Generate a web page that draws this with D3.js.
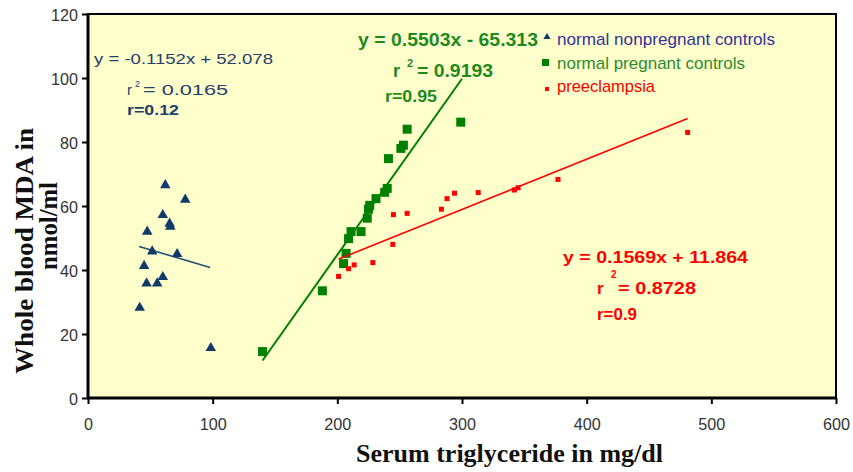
<!DOCTYPE html>
<html><head><meta charset="utf-8">
<script src="https://cdn.jsdelivr.net/npm/d3@7"></script>
<style>body{margin:0;background:#fff}svg{display:block}</style>
</head><body><svg id="c" width="853" height="472"></svg>
<script>
// ---- data ----
const xTicks = [0, 100, 200, 300, 400, 500, 600];
const yTicks = [0, 20, 40, 60, 80, 100, 120];
const seriesNames = ["normal nonpregnant controls", "normal pregnant controls", "preeclampsia"];
const nonpregnant = [[62,66.5],[78,62],[60,57.2],[65.5,54.5],[66,53.5],[47.5,52],[51.5,45.8],[71.5,45],[45,41.3],[60,37.8],[47,35.8],[55.5,35.8],[41.5,28.2],[98.5,15.6]];
const pregnant = [[140,14.5],[188,33.5],[205,42],[207,45.2],[209,49.8],[211,52],[219,52],[224,56.2],[225,59],[226,60.2],[231,62.3],[238,64.3],[240,65.5],[241,74.8],[251,78],[253,79],[256,84],[299,86.2]];
const preeclampsia = [[201,38],[209,40.4],[213.5,41.6],[228.5,42.3],[244.5,48],[245,57.3],[256,57.7],[283.5,59],[288,62.3],[294,64],[313,64.2],[342,65],[345,65.7],[377,68.3],[481,83]];
// regression lines: [slope, intercept, xStart, xEnd]
const fitNonpregnant = [-0.1152, 52.078, 41, 98];
const fitPregnant = [0.5503, -65.313, 140, 300];
const fitPreeclampsia = [0.1569, 11.864, 201, 481];
const eqNonpregnant = ["y = -0.1152x + 52.078", "= 0.0165", "r=0.12"];
const eqPregnant = ["y = 0.5503x - 65.313", "= 0.9193", "r=0.95"];
const eqPreeclampsia = ["y = 0.1569x + 11.864", "= 0.8728", "r=0.9"];

const svg = d3.select("#c");
const L = 88, R = 836, T = 14, B = 398;
const x = d3.scaleLinear().domain([0, 600]).range([L, R]);
const y = d3.scaleLinear().domain([0, 120]).range([B, T]);

const cBlue = "#103A6A", cGreen = "#008000", cRed = "#FF0000";

svg.append("rect").attr("x", L).attr("y", T).attr("width", R - L).attr("height", B - T)
  .attr("fill", "#FFFFCC").attr("stroke", "#000").attr("stroke-width", 2);

// axes
const tickFont = "'Liberation Sans', Arial, sans-serif";
const gx = svg.append("g").attr("transform", `translate(0,${B})`)
  .call(d3.axisBottom(x).tickValues(xTicks).tickSizeOuter(0).tickSizeInner(6));
gx.select(".domain").remove();
gx.selectAll("line").attr("stroke", "#000").attr("stroke-width", 2);
gx.selectAll("text").attr("y", 32).attr("dy", 0).attr("fill", "#333")
  .style("font-family", tickFont).style("font-size", "17px")
  .attr("textLength", d => String(d).length * 9).attr("lengthAdjust", "spacingAndGlyphs");

const gy = svg.append("g").attr("transform", `translate(${L},0)`)
  .call(d3.axisLeft(y).tickValues(yTicks).tickSizeOuter(0).tickSizeInner(6));
gy.select(".domain").remove();
gy.selectAll("line").attr("stroke", "#000").attr("stroke-width", 2);
gy.selectAll("text").attr("x", -10).attr("dy", 0).attr("y", 6.5).attr("fill", "#333")
  .style("font-family", tickFont).style("font-size", "17px")
  .attr("textLength", d => String(d).length * 9).attr("lengthAdjust", "spacingAndGlyphs");

svg.append("line").attr("x1", L).attr("x2", L).attr("y1", T - 1).attr("y2", B + 1).attr("stroke", "#000").attr("stroke-width", 3);
svg.append("line").attr("x1", L - 1).attr("x2", R + 1).attr("y1", B).attr("y2", B).attr("stroke", "#000").attr("stroke-width", 3);

// fit lines
function fitLine(f, color, w) {
  const pts = [f[2], f[3]].map(v => [x(v), y(f[0] * v + f[1])]);
  svg.append("path").attr("d", d3.line()(pts)).attr("stroke", color).attr("stroke-width", w).attr("fill", "none");
}
fitLine(fitNonpregnant, "#1F4E79", 1.6);

// markers
const tri = d3.symbol().type(d3.symbolTriangle).size(48);
svg.append("g").selectAll("path").data(nonpregnant).join("path")
  .attr("d", tri).attr("transform", d => `translate(${x(d[0])},${y(d[1])})`).attr("fill", cBlue);
svg.append("g").selectAll("rect").data(pregnant).join("rect")
  .attr("x", d => x(d[0]) - 4.5).attr("y", d => y(d[1]) - 4.5).attr("width", 9).attr("height", 9).attr("fill", cGreen);
fitLine(fitPregnant, cGreen, 2);
fitLine(fitPreeclampsia, cRed, 1.6);
svg.append("g").selectAll("rect").data(preeclampsia).join("rect")
  .attr("x", d => x(d[0]) - 2.5).attr("y", d => y(d[1]) - 2.5).attr("width", 5).attr("height", 5).attr("fill", cRed);

// text helper
const sans = "'Liberation Sans', Arial, sans-serif";
function txt(s, px, py, size, color, weight, len) {
  const t = svg.append("text").attr("x", px).attr("y", py).text(s)
    .style("font-family", sans).style("font-size", size + "px").style("font-weight", weight || "normal")
    .attr("fill", color);
  if (len) t.attr("textLength", len).attr("lengthAdjust", "spacingAndGlyphs");
  return t;
}

// equations
const cBlueEq = "#24406A", cGreenEq = "#1E8A1E";
txt(eqNonpregnant[0], 94, 64, 15, cBlueEq, "normal", 179);
txt("r", 127, 95, 15, cBlueEq);
txt("2", 135, 87, 9, cBlueEq);
txt(eqNonpregnant[1], 143, 95, 15, cBlueEq, "normal", 85);
txt(eqNonpregnant[2], 127, 115, 14, cBlueEq, "bold", 52);

txt(eqPregnant[0], 358, 46, 18, cGreenEq, "bold", 180);
txt("r", 393, 76.5, 18, cGreenEq, "bold");
txt("2", 407, 67, 11, cGreenEq, "bold");
txt(eqPregnant[1], 417, 76.5, 18, cGreenEq, "bold", 76);
txt(eqPregnant[2], 385, 101.5, 17, cGreenEq, "bold", 52);

txt(eqPreeclampsia[0], 563, 263, 17, cRed, "bold", 185);
txt("r", 597, 294, 17, cRed, "bold");
txt("2", 611, 278, 10, cRed, "bold");
txt(eqPreeclampsia[1], 618, 294, 17, cRed, "bold", 78);
txt(eqPreeclampsia[2], 597, 320, 16, cRed, "bold", 40);

// legend
svg.append("path").attr("d", d3.symbol().type(d3.symbolTriangle).size(22)).attr("transform", "translate(547,37)").attr("fill", cBlue);
svg.append("rect").attr("x", 542).attr("y", 59).attr("width", 7).attr("height", 7).attr("fill", cGreen);
svg.append("rect").attr("x", 545).attr("y", 87).attr("width", 4).attr("height", 4).attr("fill", cRed);
txt(seriesNames[0], 557, 45, 17, "#333399", "normal", 218);
txt(seriesNames[1], 557, 68.5, 17, "#2E8B2E", "normal", 188);
txt(seriesNames[2], 557, 92, 17, cRed, "normal", 98);

// axis titles
const serif = "'Liberation Serif', 'Times New Roman', serif";
svg.append("text").attr("x", 509.5).attr("y", 461.5).attr("text-anchor", "middle").text("Serum triglyceride in mg/dl")
  .style("font-family", serif).style("font-size", "26px").style("font-weight", "bold").attr("fill", "#111")
  .attr("textLength", 307).attr("lengthAdjust", "spacingAndGlyphs");
svg.append("text").attr("transform", "translate(33,251) rotate(-90)").attr("text-anchor", "middle").text("Whole blood MDA in")
  .style("font-family", serif).style("font-size", "26px").style("font-weight", "bold").attr("fill", "#111")
  .attr("textLength", 246).attr("lengthAdjust", "spacingAndGlyphs");
svg.append("text").attr("transform", "translate(57,226) rotate(-90)").attr("text-anchor", "middle").text("nmol/ml")
  .style("font-family", serif).style("font-size", "26px").style("font-weight", "bold").attr("fill", "#111")
  .attr("textLength", 88).attr("lengthAdjust", "spacingAndGlyphs");
</script></body></html>
